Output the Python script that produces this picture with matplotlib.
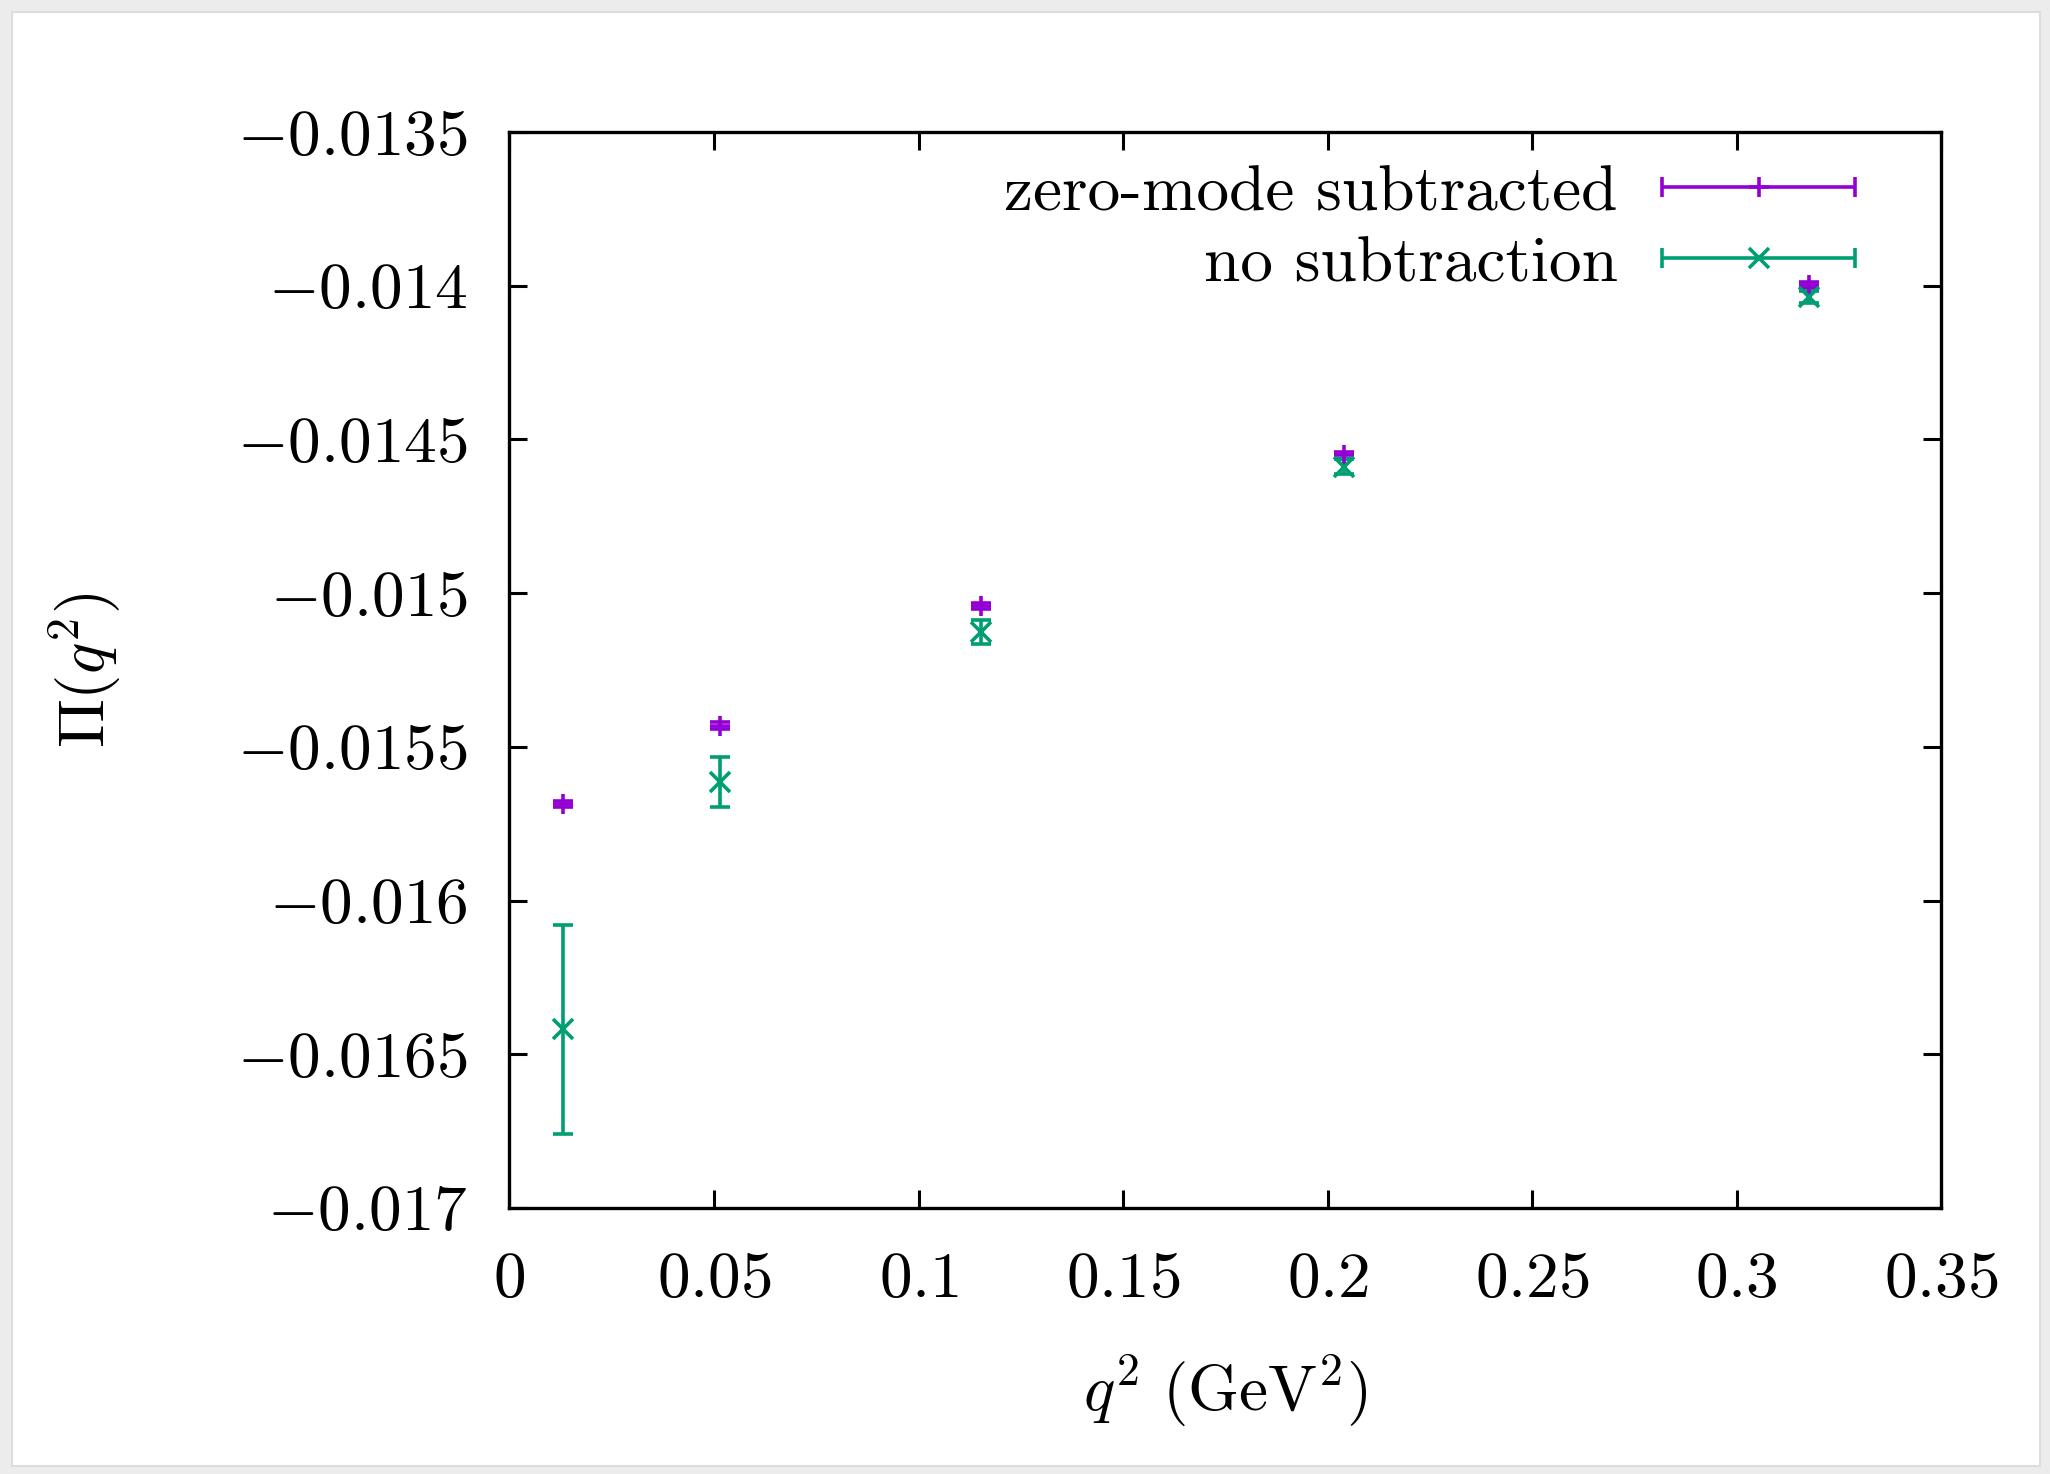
import numpy as np
import matplotlib
matplotlib.use("Agg")
import matplotlib.pyplot as plt
from matplotlib.patches import Rectangle
from matplotlib.legend_handler import HandlerErrorbar

plt.rcParams["font.family"] = "serif"
plt.rcParams["font.serif"] = ["cmr10"]
plt.rcParams["mathtext.fontset"] = "cm"

# data
q2 = [0.01315, 0.05145, 0.1152, 0.20396, 0.3176]
pi_sub = [-0.015686, -0.015431, -0.015042, -0.014551, -0.013998]
err_sub = [0.000011, 0.000011, 0.000011, 0.000011, 0.000010]
pi_nosub = [-0.016419, -0.015613, -0.015126, -0.014589, -0.014036]
err_nosub = [0.000339, 0.0000815, 0.000039, 0.000024, 0.000020]

xticks = [0, 0.05, 0.1, 0.15, 0.2, 0.25, 0.3, 0.35]
xticklabels = ["0", "0.05", "0.1", "0.15", "0.2", "0.25", "0.3", "0.35"]
yticks = [-0.017, -0.0165, -0.016, -0.0155, -0.015, -0.0145, -0.014, -0.0135]
yticklabels = ["-0.017", "-0.0165", "-0.016", "-0.0155", "-0.015", "-0.0145", "-0.014", "-0.0135"]

purple = "#9400D3"
green = "#009E73"
fs = 47
lw = 2.6

fig = plt.figure(figsize=(20.5, 14.74), dpi=100)
fig.patch.set_facecolor("#ececec")
fig.patches.append(Rectangle((12 / 2050, 8 / 1474), 2028 / 2050, 1454 / 1474,
                             transform=fig.transFigure, facecolor="white",
                             edgecolor="#dddddd", linewidth=1.5, zorder=-10))

ax = fig.add_axes([0.2485, 0.1805, 0.6985, 0.7299])
ax.set_zorder(5)

ax.errorbar(q2, pi_sub, yerr=err_sub, fmt="+", color=purple, ms=14, mew=lw,
            elinewidth=lw, capsize=7.2, capthick=lw)
ax.errorbar(q2, pi_nosub, yerr=err_nosub, fmt="x", color=green, ms=15, mew=lw,
            elinewidth=lw, capsize=7.2, capthick=lw)

# legend proxies (gnuplot-style horizontal error bar samples)
h1 = ax.errorbar([np.nan], [np.nan], xerr=[np.nan], fmt="+", color=purple, ms=14,
                 mew=lw, elinewidth=lw, capsize=7.2, capthick=lw,
                 label="zero-mode subtracted")
h2 = ax.errorbar([np.nan], [np.nan], xerr=[np.nan], fmt="x", color=green, ms=15,
                 mew=lw, elinewidth=lw, capsize=7.2, capthick=lw,
                 label="no subtraction")

hl = 2.96
leg = ax.legend(handles=[h1, h2], loc="upper right", bbox_to_anchor=(0.94, 0.97),
                frameon=False, markerfirst=False, fontsize=fs, handlelength=hl,
                handletextpad=0.68, labelspacing=0.19, borderpad=0, borderaxespad=0,
                handler_map={type(h1): HandlerErrorbar(xerr_size=hl / 2)})

ax.set_xlim(0, 0.35)
ax.set_ylim(-0.017, -0.0135)
ax.set_xticks(xticks)
ax.set_xticklabels(["$" + s + "$" for s in xticklabels])
ax.set_yticks(yticks)
ax.set_yticklabels(["$" + s + "$" for s in yticklabels])
ax.tick_params(direction="in", top=True, right=True, length=13, width=2.2,
               labelsize=fs)
ax.tick_params(axis="y", pad=30)
ax.tick_params(axis="x", pad=32)
for s in ax.spines.values():
    s.set_linewidth(2.4)

ax.set_xlabel(r"$q^2\ (\mathrm{GeV}^2)$", fontsize=fs, labelpad=30)
ax.set_ylabel(r"$\Pi(q^2)$", fontsize=fs, labelpad=82)

fig.savefig("out.png", dpi=100)
